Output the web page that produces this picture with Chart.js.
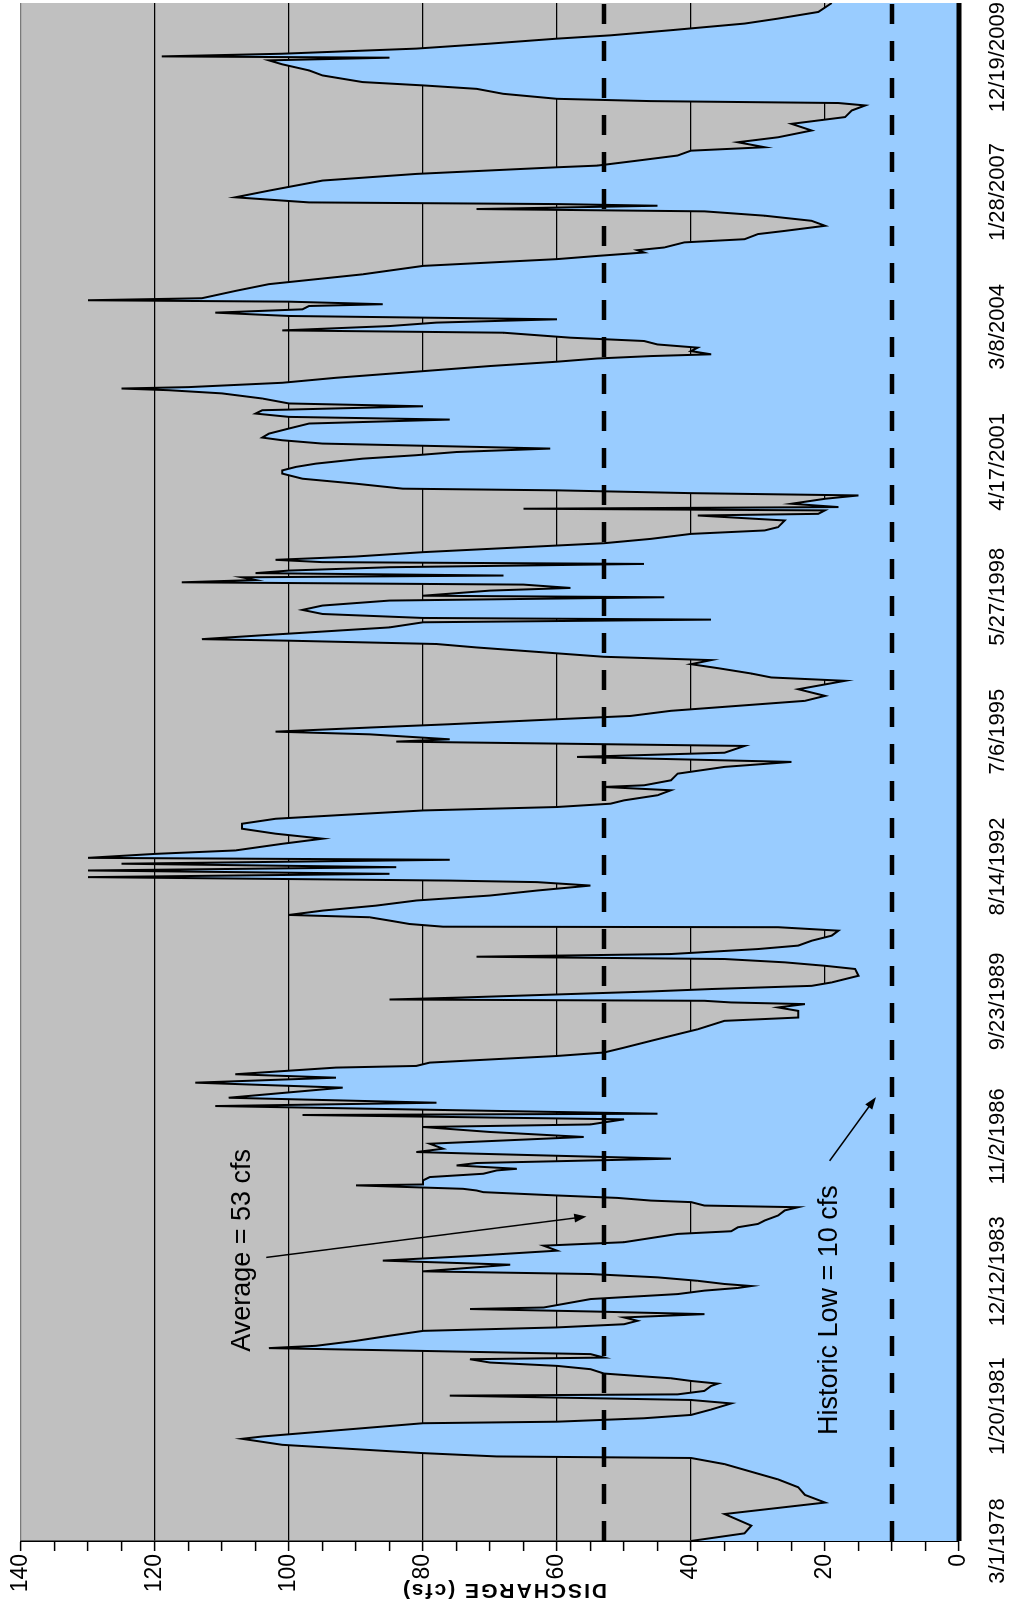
<!DOCTYPE html>
<html>
<head>
<meta charset="utf-8">
<script src="https://cdn.jsdelivr.net/npm/chart.js@4.4.1/dist/chart.umd.min.js"></script>
<style>
  html, body { margin: 0; padding: 0; background: #fff; overflow: hidden; }
  #wrap {
    position: absolute; left: 0; top: 1604px;
    width: 1604px; height: 1012px;
    transform-origin: 0 0; transform: rotate(-90deg);
  }
</style>
</head>
<body>
<div id="wrap"><canvas id="c" width="1604" height="1012"></canvas></div>
<script>
// daily discharge: day offset from 3/1/1978, flow in cfs
var days = [0,60,120,211,301,361,421,482,602,650,662,688,700,753,800,818,857,922,934,961,987,1029,1077,1104,1138,
1148,1175,1214,1232,1253,1274,1292,1311,1345,1371,1397,1423,1436,1463,1488,1510,1528,1567,1607,1645,1672,1697,1724,1750,1776,1797,1816,1828,1894,1933,1960,1981,1996,2012,2037,2064,2090,2111,2163,2195,2234,2273,2312,2339,2404,2425,2456,2482,2509,2548,2588,2613,2626,2653,2665,2686,2705,2731,2744,2757,2784,2791,2823,2849,2875,2901,2914,2940,2959,2993,3005,3032,3045,3071,3110,3163,3202,3241,
3261,3301,3335,3345,3405,3431,3470,3549,3588,3627,3654,3706,3719,3745,3797,3824,3862,3915,3967,4006,4072,4098,4150,4177,4203,4216,4229,4239,4255,4302,4321,4346,4373,4425,4478,4503,4530,4556,4574,4595,4634,4661,4699,4739,4778,4805,4809,4830,4857,4883,4901,4935,4974,5014,5053,5092,5131,5158,5170,5197,5223,5249,5275,5302,5333,5348,5379,5406,5458,5498,5537,5576,5615,5654,5681,5719,5746,5772,5798,5838,5877,5903,5916,5955,6007,6060,6099,6138,
6171,6224,6258,6276,6315,6336,6368,6394,6433,6459,6499,6538,6577,6616,6668,6734,6760,6791,6833,6864,6896,6922,6949,6995,7022,7048,7060,7087,7126,7152,7192,7213,7226,7257,7289,7323,7362,7388,7400,7440,7461,7487,7505,7523,7544,7558,7577,7597,7623,7649,7663,7681,7707,7741,7767,7793,7811,7845,7884,7911,7937,7989,8028,8041,8068,8081,8094,8120,8159,8185,8203,8225,8238,8277,8316,8356,8381,8408,8434,8473,8500,8525,8552,8565,8591,8617,8638,8669,8709,8748,8779,8800,8826,8852,8883,8905,8944,8984,9009,9022,
9033,9067,9106,9158,9198,9232,9257,9276,9290,9315,9342,9367,9394,9420,9459,9477,9511,9538,9564,9590,9616,9642,9668,9682,9702,9713,9729,9786,9839,9916,9982,10035,10060,10087,10105,10126,10166,10191,10231,10256,10296,10335,10375,10409,10427,10453,10466,10479,10519,10571,10650,10702,10754,10767,10806,10846,10884,10911,10950,10989,11042,11094,11147,11199,11238,11257,11272,11290,11329,11368,11395,11421,11473,11512,11560,11591,11612,11622,11643,11683,11722,11761,11787,11827,11879,11918,11970,12040];
var flow = [40,32,31,35,20,23,24,27,35,40,69,80,84,101,107,104,95,80,60,47,40,37,34,40,76,
42,38,37,36,40,43,48,53,55,60,70,73,53,55,80,103,96,90,85,80,60,50,48,50,38,55,73,62,55,42,38,33,31,35,39,45,55,80,67,86,72,60,62,50,42,34,33,30,29,27,26,24,38,40,46,51,60,71,72,74,90,80,80,79,71,69,66,75,72,43,52,72,81,77,79,56,70,80,
55,50,98,45,111,78,109,92,114,93,108,93,81,79,60,53,50,46,42,39,35,24,24,27,23,34,38,85,74,46,37,22,19,15,15.5,20,26,35,72,43,30,24,22,19,18,27,77,82,85,88,100,95,87,81,70,63,55,63,76,130,85,130,84,125,76,130,120,108,101,95,102,107,107,102,93,80,60,52,50,45,43,53,47,43,42,35,25,57,
35,32,84,76,88,102,88,76,60,49,43,33,23,20,24,17,28,31,36,40,37,53,60,72,78,100,113,105,93,85,80,37,80,95,98,95,85,44,80,70,58,65,116,105,107,68,105,100,85,47,95,102,90,80,70,60,53,46,40,29,27,26,39,21,20,65,18,25,20,15,40,60,83,90,98,101,101,99,96,89,81,75,61,72,95,101,104,103,100,97,76,100,105,104,80,100,104,110,118,125,
115,101,93,80,70,60,54,46,37,40,39,45,47,58,68,101,85,78,60,100,111,98,97,86,100,130,113,108,103,89,80,60,54,47,48,44,41,32,30,26,20,22,29,38,72,45,60,97,108,103,95,81,60,54,48,42,40,29,33,27,22,25,17,16,14,18,46,60,68,72,80,89,95,97,101,103,85,119,101,81,70,60,52,43,32,27,21,19];

var lastDay = 12040;
var averageFlow = 53;
var historicLow = 10;

var dateLabels = ['3/1/1978','1/20/1981','12/12/1983','11/2/1986','9/23/1989','8/14/1992',
  '7/6/1995','5/27/1998','4/17/2001','3/8/2004','1/28/2007','12/19/2009'];
var dateTickDays = [0,1056,2112,3168,4224,5280,6336,7392,8448,9504,10560,11616];
var valueTicks = [0,20,40,60,80,100,120,140];

var FONT = "'Liberation Sans', Arial, sans-serif";

var points = days.map(function (d, i) { return {x: d, y: flow[i]}; });

// gray plot area
var plotBg = {
  id: 'plotBg',
  beforeDraw: function (chart) {
    var a = chart.chartArea, ctx = chart.ctx;
    ctx.save();
    ctx.fillStyle = '#C0C0C0';
    ctx.fillRect(a.left, a.top, a.right - a.left, a.bottom - a.top);
    ctx.restore();
  }
};

function arrow(ctx, x1, y1, x2, y2) {
  var ang = Math.atan2(y2 - y1, x2 - x1), len = 13;
  ctx.beginPath();
  ctx.moveTo(x1, y1);
  ctx.lineTo(x2 - Math.cos(ang) * 6, y2 - Math.sin(ang) * 6);
  ctx.stroke();
  ctx.beginPath();
  ctx.moveTo(x2, y2);
  ctx.lineTo(x2 - len * Math.cos(ang - 0.35), y2 - len * Math.sin(ang - 0.35));
  ctx.lineTo(x2 - len * Math.cos(ang + 0.35), y2 - len * Math.sin(ang + 0.35));
  ctx.closePath();
  ctx.fill();
}

// zero line, notes, arrows and the axis title
var notes = {
  id: 'notes',
  afterDatasetsDraw: function (chart) {
    var a = chart.chartArea, ctx = chart.ctx;
    ctx.save();
    ctx.strokeStyle = '#000';
    ctx.lineWidth = 5;
    ctx.beginPath();
    ctx.moveTo(a.left, a.bottom);
    ctx.lineTo(a.right, a.bottom);
    ctx.stroke();
    ctx.restore();
  },
  afterDraw: function (chart) {
    var ctx = chart.ctx, x = chart.scales.x, y = chart.scales.y;
    ctx.save();
    ctx.fillStyle = '#000';
    ctx.strokeStyle = '#000';
    ctx.lineWidth = 1.5;
    ctx.font = '27px ' + FONT;
    ctx.textAlign = 'center';
    ctx.textBaseline = 'middle';
    ctx.fillText('Average = 53 cfs', x.getPixelForValue(2275), y.getPixelForValue(106.9));
    ctx.fillText('Historic Low = 10 cfs', x.getPixelForValue(1807), y.getPixelForValue(19.3));
    arrow(ctx, x.getPixelForValue(2220), y.getPixelForValue(103.4),
               x.getPixelForValue(2540), y.getPixelForValue(55.6));
    arrow(ctx, x.getPixelForValue(2976), y.getPixelForValue(19.3),
               x.getPixelForValue(3475), y.getPixelForValue(12.4));

    ctx.translate(14, 504);
    ctx.rotate(-Math.PI / 2);
    ctx.font = 'bold 21px ' + FONT;
    ctx.letterSpacing = '2px';
    ctx.fillText('DISCHARGE (cfs)', 0, 0);
    ctx.restore();
  }
};

new Chart(document.getElementById('c'), {
  type: 'line',
  data: {
    datasets: [
      {
        label: 'Average',
        data: [{x: 0, y: averageFlow}, {x: lastDay, y: averageFlow}],
        borderColor: '#000', borderWidth: 4.5, borderDash: [20, 17],
        pointRadius: 0, fill: false, order: 0
      },
      {
        label: 'Historic low',
        data: [{x: 0, y: historicLow}, {x: lastDay, y: historicLow}],
        borderColor: '#000', borderWidth: 4.5, borderDash: [20, 17],
        pointRadius: 0, fill: false, order: 0
      },
      {
        label: 'Discharge',
        data: points,
        borderColor: '#000', borderWidth: 2,
        backgroundColor: '#99CCFF', fill: 'origin',
        pointRadius: 0, tension: 0, order: 1
      }
    ]
  },
  options: {
    responsive: false,
    animation: false,
    devicePixelRatio: 1,
    layout: {padding: {top: 21, right: 3, left: 0, bottom: 0}},
    plugins: {legend: {display: false}, tooltip: {enabled: false}},
    scales: {
      x: {
        type: 'linear', min: 0, max: lastDay,
        afterBuildTicks: function (s) {
          s.ticks = dateTickDays.map(function (v) { return {value: v}; });
        },
        afterFit: function (s) {
          s.height = 53;
          s.paddingLeft = 0;
          s.paddingRight = 0;
        },
        ticks: {
          autoSkip: false, maxRotation: 0, minRotation: 0,
          padding: 26, color: '#000',
          font: {family: FONT, size: 22},
          callback: function (v) {
            var i = dateTickDays.indexOf(v);
            return i >= 0 ? dateLabels[i] : '';
          }
        },
        grid: {display: false, drawTicks: false},
        border: {display: false}
      },
      y: {
        min: 0, max: 140,
        afterBuildTicks: function (s) {
          var t = [];
          for (var v = 0; v <= 140; v += 5) t.push({value: v});
          s.ticks = t;
        },
        afterFit: function (s) { s.width = 63; },
        ticks: {
          padding: 3, color: '#000',
          font: {family: FONT, size: 23},
          callback: function (v) { return valueTicks.indexOf(v) >= 0 ? String(v) : ''; }
        },
        grid: {
          color: function (c) {
            var v = c.tick ? c.tick.value : -1;
            if (v === 140) return '#7a7a7a';
            return (v > 0 && v % 20 === 0) ? '#000' : 'rgba(0,0,0,0)';
          },
          lineWidth: 1.2,
          tickColor: '#000', tickLength: 10, tickWidth: 1.5
        },
        border: {display: true, color: '#000', width: 1.5}
      }
    }
  },
  plugins: [plotBg, notes]
});
</script>
</body>
</html>
